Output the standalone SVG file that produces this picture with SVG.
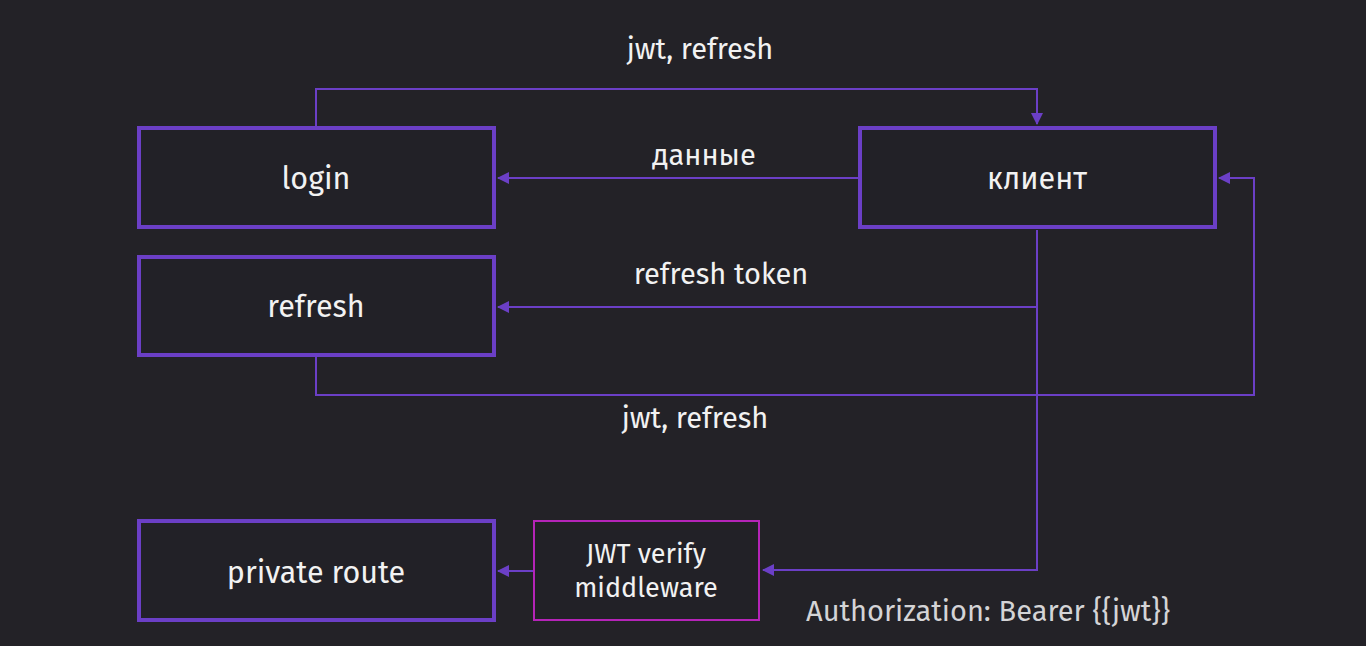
<svg xmlns="http://www.w3.org/2000/svg" width="1366" height="646" viewBox="0 0 1366 646">
<style>
.node{fill:#222127;stroke:#6b3fc6;stroke-width:4}
.mw{fill:#222127;stroke:#b524b8;stroke-width:2}
.t{font-family:"Fira Sans","Noto Sans","Open Sans",sans-serif;fill:#f2f2f2;text-anchor:middle}
.big{font-size:30.5px}
.lbl{font-size:29px}
.sm{font-size:27px}
.c{fill:none;stroke:#6b3fc6;stroke-width:2}
</style>
<defs>
<marker id="ah" markerWidth="12" markerHeight="12" refX="11" refY="6" orient="auto" markerUnits="userSpaceOnUse">
<path d="M0,0 L12,6 L0,12 z" fill="#6b3fc6"/>
</marker>
</defs>
<rect width="1366" height="646" fill="#232227"/>
<g id="connectors">
<path class="c" d="M316,126 V89 H1037 V124" marker-end="url(#ah)"/>
<text class="t lbl" x="700" y="59">jwt, refresh</text>
<path class="c" d="M858,178 H498" marker-end="url(#ah)"/>
<text class="t lbl" x="704" y="165">данные</text>
<path class="c" d="M1037,230 V570 H763" marker-end="url(#ah)"/>
<path class="c" d="M1037,307 H498" marker-end="url(#ah)"/>
<text class="t lbl" x="721" y="284">refresh token</text>
<path class="c" d="M316,357 V395 H1254 V178 H1219" marker-end="url(#ah)"/>
<text class="t lbl" x="695" y="428">jwt, refresh</text>
<path class="c" d="M533,571 H498" marker-end="url(#ah)"/>
</g>
<g id="login">
<rect class="node" x="139" y="128" width="355" height="99"/>
<text class="t big" x="316" y="189">login</text>
</g>
<g id="client">
<rect class="node" x="860" y="128" width="355" height="99"/>
<text class="t big" x="1037" y="189">клиент</text>
</g>
<g id="refresh">
<rect class="node" x="139" y="257" width="355" height="98"/>
<text class="t big" x="316" y="317">refresh</text>
</g>
<g id="private-route">
<rect class="node" x="139" y="521" width="355" height="99"/>
<text class="t big" x="316" y="583">private route</text>
</g>
<g id="jwt-verify">
<rect class="mw" x="534" y="521" width="225" height="99"/>
<text class="t sm" x="646" y="563">JWT verify</text>
<text class="t sm" x="646" y="597">middleware</text>
</g>
<text class="t lbl" x="988" y="621" style="fill:#d4d4d6">Authorization: Bearer {{jwt}}</text>
</svg>
